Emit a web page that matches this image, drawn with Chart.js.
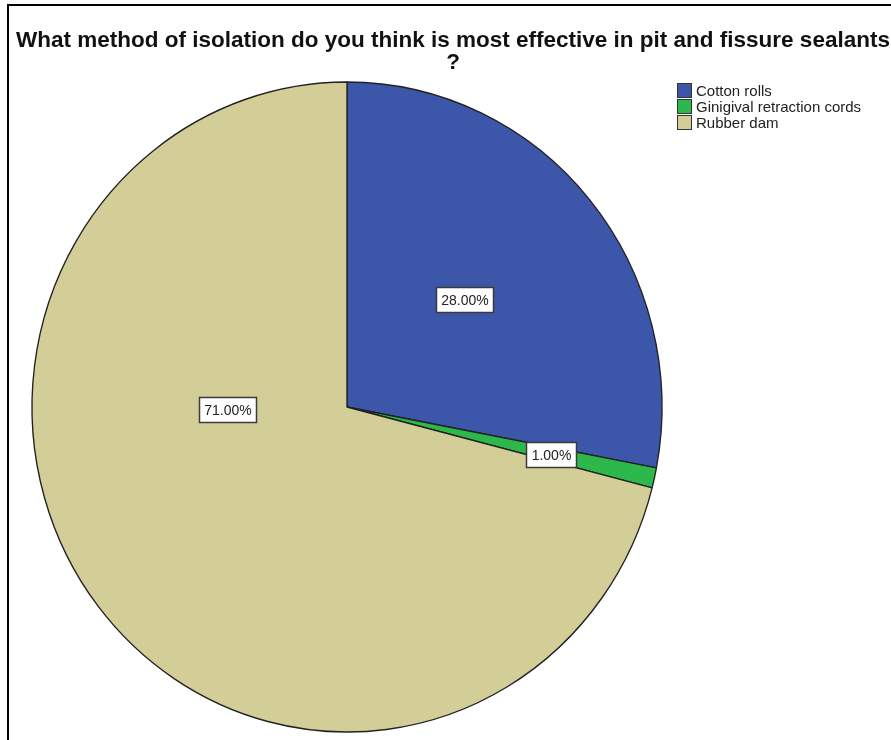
<!DOCTYPE html>
<html>
<head>
<meta charset="utf-8">
<script src="https://cdn.jsdelivr.net/npm/chart.js@4.4.1/dist/chart.umd.min.js"></script>
<style>
  html, body { margin:0; padding:0; background:#fff; }
  #wrap { position:relative; width:891px; height:740px; overflow:hidden; font-family:"Liberation Sans", Arial, sans-serif; }
  #frame { position:absolute; left:7px; top:4px; width:900px; height:760px; border-top:2px solid #000; border-left:2px solid #000; }
  #title { position:absolute; left:0; top:29px; width:906px; text-align:center; font-weight:bold; font-size:22.5px; line-height:22px; color:#111; }
  #legend { position:absolute; left:677px; top:83px; font-size:15px; color:#222; }
  #legend div { height:16px; line-height:15px; white-space:nowrap; }
  #legend span { display:inline-block; width:13px; height:13px; border:1px solid #333; vertical-align:-2px; margin-right:4px; }
  canvas { position:absolute; left:0; top:0; }
</style>
</head>
<body>
<div id="wrap">
  <canvas id="pie" width="891" height="740"></canvas>
  <div id="frame"></div>
  <div id="title">What method of isolation do you think is most effective in pit and fissure sealants<br>?</div>
  <div id="legend"></div>
</div>
<script>
const labels = ['Cotton rolls', 'Ginigival retraction cords', 'Rubber dam'];
const percents = [28, 1, 71];
const colors = ['#3c56a9', '#2cb84a', '#d3ce98'];

// where each value box sits: t = fraction across the slice, r = fraction of radius
const labelSpots = [{ t:0.48, r:0.50 }, { t:0.53, r:0.665 }, { t:0.644, r:0.38 }];
const squashX = 315 / 325; // pie is drawn a little narrower than tall

document.getElementById('legend').innerHTML = labels
  .map((l, i) => `<div><span style="background:${colors[i]}"></span>${l}</div>`).join('');

const squash = {
  id:'squash',
  beforeDatasetsDraw(c){
    const a = c.getDatasetMeta(0).data[0];
    c.ctx.save();
    c.ctx.translate(a.x, a.y);
    c.ctx.scale(squashX, 1);
    c.ctx.translate(-a.x, -a.y);
  },
  afterDatasetsDraw(c){ c.ctx.restore(); }
};

const valueBoxes = {
  id:'valueBoxes',
  afterDraw(c){
    const ctx = c.ctx;
    ctx.save();
    ctx.font = '14px "Liberation Sans", Arial, sans-serif';
    ctx.textAlign = 'center';
    ctx.textBaseline = 'middle';
    c.getDatasetMeta(0).data.forEach((arc, i) => {
      const p = labelSpots[i];
      const ang = arc.startAngle + (arc.endAngle - arc.startAngle) * p.t;
      const x = arc.x + Math.cos(ang) * arc.outerRadius * p.r * squashX;
      const y = arc.y + Math.sin(ang) * arc.outerRadius * p.r;
      const txt = percents[i].toFixed(2) + '%';
      const w = Math.round(ctx.measureText(txt).width) + 10, h = 25;
      const bx = Math.round(x - w / 2) + 0.5, by = Math.round(y - h / 2) + 0.5;
      ctx.fillStyle = '#fff';
      ctx.fillRect(bx, by, w, h);
      ctx.strokeStyle = '#3a3a3a';
      ctx.lineWidth = 1.5;
      ctx.strokeRect(bx, by, w, h);
      ctx.fillStyle = '#222';
      ctx.fillText(txt, bx + w / 2, by + h / 2 + 1);
    });
    ctx.restore();
  }
};

new Chart(document.getElementById('pie'), {
  type:'pie',
  data:{
    labels,
    datasets:[{ data:percents, backgroundColor:colors, borderColor:'#222', borderWidth:1.4 }]
  },
  options:{
    responsive:false,
    animation:false,
    devicePixelRatio:1,
    radius:325,
    layout:{ padding:{ left:22, right:219, top:82, bottom:8 } },
    plugins:{ legend:{ display:false }, title:{ display:false }, tooltip:{ enabled:false } }
  },
  plugins:[squash, valueBoxes]
});
</script>
</body>
</html>
